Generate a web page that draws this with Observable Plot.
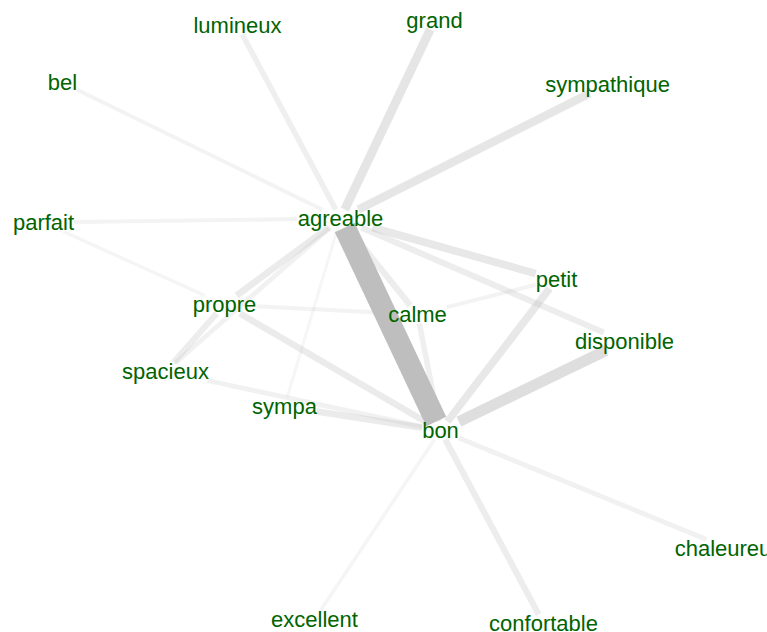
<!DOCTYPE html>
<html>
<head>
<meta charset="utf-8">
<script src="https://cdn.jsdelivr.net/npm/d3@7"></script>
<script src="https://cdn.jsdelivr.net/npm/@observablehq/plot@0.6"></script>
<style>
  html, body { margin: 0; padding: 0; background: #fff; overflow: hidden; }
  #chart svg { display: block; }
</style>
</head>
<body>
<div id="chart"></div>
<script>
// Nodes (word) and their layout positions (layout units)
const words  = ["lumineux","grand","bel","sympathique","parfait","agreable","petit","propre","calme","disponible","spacieux","sympa","bon","chaleureux","excellent","confortable"];
const layoutX = [237, 434, 62, 607, 43, 340, 556, 224, 417, 624, 165, 284, 440, 728, 314, 543];
const layoutY = [ 25,  20, 82,  84, 222, 218, 279, 304, 314, 341, 371, 406, 430, 548, 619, 623];

// Co-occurrence edges
const edgeFrom   = ["agreable","agreable","agreable","agreable","agreable","agreable","agreable","agreable","agreable","agreable","agreable","agreable","bon","bon","bon","bon","bon","bon","bon","bon","bon","propre","propre","calme","parfait"];
const edgeTo     = ["bon","grand","sympathique","lumineux","bel","parfait","petit","disponible","calme","propre","spacieux","sympa","disponible","petit","calme","propre","sympa","spacieux","chaleureux","confortable","excellent","calme","spacieux","petit","propre"];
const edgeWeight = [100, 40, 38, 25, 18, 18, 35, 28, 28, 30, 22, 14, 50, 35, 25, 30, 30, 22, 22, 28, 16, 18, 28, 18, 16];

const fontSize = 22;
const fontFamily = "'Liberation Sans', Arial, Helvetica, sans-serif";

// measure label widths for edge caps (label rectangles)
const ctx = document.createElement("canvas").getContext("2d");
ctx.font = `${fontSize}px ${fontFamily}`;
const nodeIndex = new Map(words.map((w, i) => [w, i]));
const halfW = words.map(w => ctx.measureText(w).width / 2);
const halfH = 9;

function capPoint(i, ox, oy) {
  const cx = layoutX[i], cy = layoutY[i];
  const dx = ox - cx, dy = oy - cy;
  const tx = dx === 0 ? Infinity : halfW[i] / Math.abs(dx);
  const ty = dy === 0 ? Infinity : halfH / Math.abs(dy);
  const t = Math.min(tx, ty, 1);
  return [cx + t * dx, cy + t * dy];
}

const wmax = d3.max(edgeWeight);
const widthScale = d3.scaleLinear().domain([0, wmax]).range([0, 22]);

const edges = edgeFrom.map((f, k) => {
  const a = nodeIndex.get(f), b = nodeIndex.get(edgeTo[k]);
  const [x1, y1] = capPoint(a, layoutX[b], layoutY[b]);
  const [x2, y2] = capPoint(b, layoutX[a], layoutY[a]);
  return {x1, y1, x2, y2, w: edgeWeight[k]};
}).sort((p, q) => p.w - q.w);

const nodes = words.map((w, i) => ({word: w, x: layoutX[i], y: layoutY[i]}));

const chart = Plot.plot({
  width: 767,
  height: 632,
  margin: 0,
  x: {domain: [0, 767], range: [0, 767], axis: null},
  y: {domain: [0, 632], range: [0, 632], axis: null},
  opacity: {domain: [0, wmax], range: [0, 1]},
  style: {fontFamily, background: "#fff"},
  marks: [
    Plot.link(edges, {
      x1: "x1", y1: "y1", x2: "x2", y2: "y2",
      stroke: "#bebebe",
      strokeOpacity: "w",
      strokeWidth: d => widthScale(d.w),
      strokeLinecap: "butt"
    }),
    Plot.text(nodes, {
      x: "x", y: "y", text: "word",
      fill: "#006400",
      fontSize,
      textAnchor: "middle"
    })
  ]
});
document.getElementById("chart").appendChild(chart);
</script>
</body>
</html>
